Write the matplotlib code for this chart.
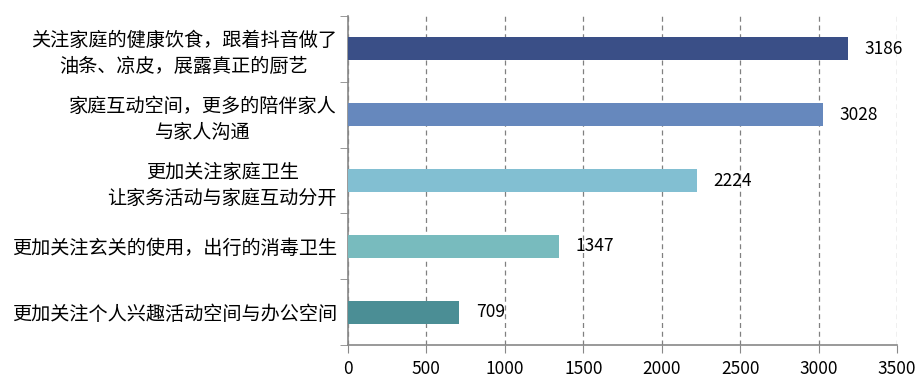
import matplotlib
matplotlib.use("Agg")
import matplotlib.pyplot as plt
from matplotlib.ticker import FixedLocator

plt.rcParams['font.family'] = ['Noto Sans CJK SC', 'DejaVu Sans']

categories = [
    "关注家庭的健康饮食，跟着抖音做了\n油条、凉皮，展露真正的厨艺",
    "家庭互动空间，更多的陪伴家人\n与家人沟通",
    "更加关注家庭卫生\n让家务活动与家庭互动分开",
    "更加关注玄关的使用，出行的消毒卫生",
    "更加关注个人兴趣活动空间与办公空间",
]
values = [3186, 3028, 2224, 1347, 709]
colors = ["#3A4F87", "#6688BD", "#82BFD2", "#78BBBE", "#4B8E95"]
xticks = [0, 500, 1000, 1500, 2000, 2500, 3000, 3500]

fig = plt.figure(figsize=(9.22, 3.87), dpi=100)
ax = fig.add_axes([0.3774, 0.1085, 0.5955, 0.850])

pos = list(range(len(values)))
ax.barh(pos, values, height=0.35, color=colors, zorder=3)
ax.set_ylim(len(values) - 0.5, -0.5)
ax.set_xlim(0, 3500)
ax.set_xticks(xticks)
ax.set_xticklabels([str(t) for t in xticks], fontsize=12.5)

ax.set_yticks(pos)
ax.set_yticklabels(categories, fontsize=13.8, multialignment='center', linespacing=1.3)
ax.tick_params(axis='y', length=0, pad=8)
ax.yaxis.set_minor_locator(FixedLocator([p - 0.5 for p in range(len(values) + 1)]))
ax.tick_params(axis='y', which='minor', length=6, color='#888888', direction='out')
ax.tick_params(axis='x', length=6, color='#888888', direction='out', pad=5)

for s in ['top', 'right']:
    ax.spines[s].set_visible(False)
for s in ['left', 'bottom']:
    ax.spines[s].set_color('#888888')
    ax.spines[s].set_linewidth(1.2)

ax.grid(axis='x', linestyle=(0, (4, 3)), color='#808080', linewidth=0.9, zorder=0)

for p, v in zip(pos, values):
    ax.annotate(str(v), (v, p), xytext=(12, 0), textcoords='offset points',
                va='center', ha='left', fontsize=12.5)

fig.savefig("out.png", dpi=100)
